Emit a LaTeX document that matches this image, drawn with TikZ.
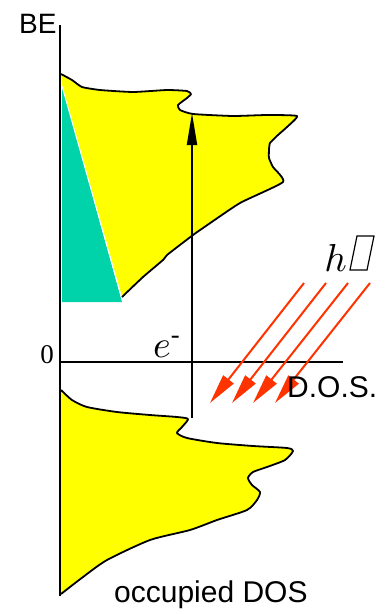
\documentclass[tikz,border=0pt]{standalone}
\usepackage{amsmath}
\usepackage{fontspec}
\usepackage{graphicx}
\setmainfont{Liberation Sans}
\newfontfamily\serifnum{Liberation Serif}
\usetikzlibrary{arrows.meta}
\definecolor{dosyellow}{RGB}{255,255,0}
\definecolor{dosteal}{RGB}{0,210,170}
\definecolor{photonred}{RGB}{255,51,0}
\begin{document}
\begin{tikzpicture}[x=1pt,y=-1pt,
  axisline/.style={line width=2pt,black},
  outline/.style={line width=1.8pt,black,line join=round},
  photon/.style={line width=2pt,photonred,-{Triangle[length=30pt,width=13pt]}},
  sanslabel/.style={font=\fontsize{28}{30}\selectfont,inner sep=0pt},
]
\useasboundingbox (0,0) rectangle (387,614);
% teal triangle
\fill[dosteal] (62,86) -- (122,302) -- (62,302) -- cycle;
% upper yellow shape
\fill[dosyellow] plot[smooth,tension=0.3] coordinates {(61,74) (72,80) (82,87) (100,90) (133,92) (167,90) (187,91) (191,94) (187,98) (178,105) (180,110) (193,114) (233,116) (267,115) (297,116) (287,127) (278,135) (270,143) (269,150) (269,158) (273,167) (283,182) (240,203) (203,228) (193,235) (167,255) (163,260) (143,277) (122,297)} -- (62,86) -- cycle;
\draw[white,line width=1pt] (62,86) -- (122,299);
\draw[outline] plot[smooth,tension=0.3] coordinates {(61,74) (72,80) (82,87) (100,90) (133,92) (167,90) (187,91) (191,94) (187,98) (178,105) (180,110) (193,114) (233,116) (267,115) (297,116) (287,127) (278,135) (270,143) (269,150) (269,158) (273,167) (283,182) (240,203) (203,228) (193,235) (167,255) (163,260) (143,277) (122,297)};
% lower yellow shape
\fill[dosyellow] plot[smooth,tension=0.4] coordinates {(61,390) (72,400) (87,407) (117,412) (150,415) (177,417) (188,419) (182,427) (177,433) (187,438) (217,443) (253,446) (287,448) (293,451) (285,460) (267,467) (253,472) (248,478) (252,485) (260,492) (257,500) (247,510) (217,520) (190,530) (150,540) (107,560) (83,577) (61,594)} -- cycle;
\draw[outline] plot[smooth,tension=0.4] coordinates {(61,390) (72,400) (87,407) (117,412) (150,415) (177,417) (188,419) (182,427) (177,433) (187,438) (217,443) (253,446) (287,448) (293,451) (285,460) (267,467) (253,472) (248,478) (252,485) (260,492) (257,500) (247,510) (217,520) (190,530) (150,540) (107,560) (83,577) (61,594)};
% axes
\coordinate (ytop) at (60,25);
\coordinate (ybot) at (60,596);
\coordinate (xleft) at (59,362);
\coordinate (xright) at (343,362);
\draw[axisline] (ytop) -- (ybot);
\draw[axisline] (xleft) -- (xright);
% excitation arrow
\coordinate (estart) at (192,418);
\coordinate (eend) at (192,113);
\draw[line width=2pt,-{Triangle[length=32pt,width=10pt]}] (estart) -- (eend);
% photons
\foreach \i/\sx/\tx in {1/304/210,2/326/232,3/348/253,4/370/275}{
  \coordinate (ps\i) at (\sx,283);
  \coordinate (pt\i) at (\tx,403);
  \draw[photon] (ps\i) -- (pt\i);
}
% labels
\node[sanslabel,anchor=base west] (be) at (19,33) {BE};
\node[font=\fontsize{30}{32}\selectfont,inner sep=0pt,anchor=base west] (dos) at (287,397) {D.O.S.};
\node[font=\fontsize{30}{32}\selectfont,inner sep=0pt,anchor=base west] (occ) at (114,602) {occupied DOS};
\node[font=\serifnum\fontsize{27}{29}\selectfont,inner sep=0pt,anchor=base] (zero) at (47,363) {0};
\node[inner sep=0pt,anchor=base west] (elec) at (153,357) {\scalebox{3.8}{$e^{\text{\serifnum -}}$}};
\node[inner sep=0pt,anchor=base east] (hnu) at (347,271) {\scalebox{3.9}{$h$}};
\draw[line width=1.2pt] (357,236) -- (374,236) -- (367,270) -- (350,270) -- cycle;
\end{tikzpicture}
\end{document}
